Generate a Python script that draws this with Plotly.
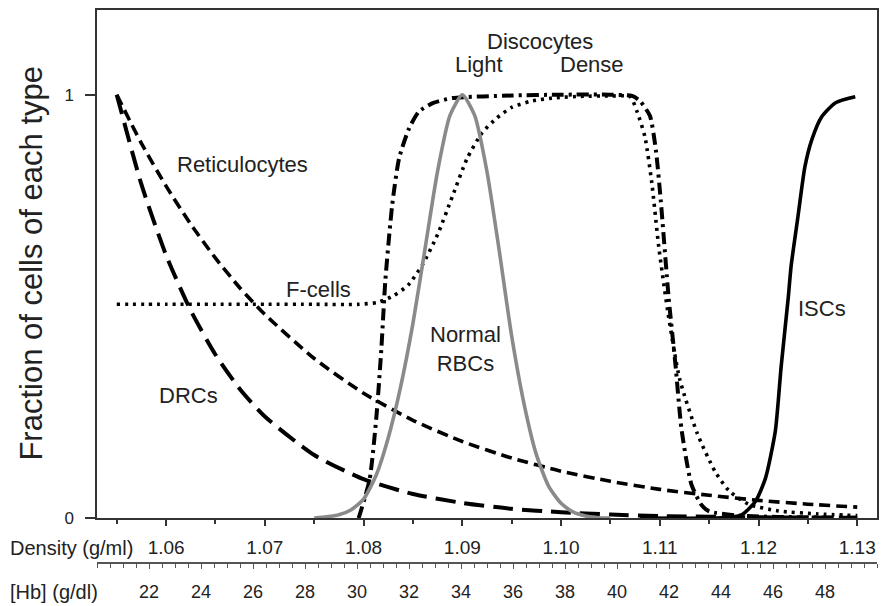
import plotly.graph_objects as go

# ---------------- data ----------------
ret_d = [1.055, 1.0575, 1.06, 1.0625, 1.065, 1.0675, 1.07, 1.075, 1.08, 1.085, 1.09,
         1.095, 1.10, 1.105, 1.11, 1.115, 1.12, 1.125, 1.13]
ret_v = [1.0, 0.885, 0.784, 0.694, 0.614, 0.543, 0.481, 0.377, 0.295, 0.231, 0.181,
         0.142, 0.111, 0.087, 0.068, 0.054, 0.042, 0.033, 0.026]

drc_d = [1.055, 1.0575, 1.06, 1.0625, 1.065, 1.0675, 1.07, 1.075, 1.08, 1.085, 1.09,
         1.095, 1.10, 1.105, 1.11, 1.12, 1.13]
drc_v = [1.0, 0.788, 0.621, 0.49, 0.386, 0.304, 0.24, 0.149, 0.092, 0.057, 0.036,
         0.022, 0.014, 0.0085, 0.005, 0.002, 0.001]

fcell_d = [1.055, 1.06, 1.065, 1.07, 1.075, 1.0795, 1.0815, 1.083, 1.0845, 1.086, 1.0875,
           1.089, 1.0905, 1.092, 1.0935, 1.095, 1.097, 1.0995, 1.102, 1.105, 1.107,
           1.1077, 1.1085, 1.1092, 1.1099, 1.1108, 1.112, 1.1138, 1.1156, 1.117, 1.119,
           1.122, 1.126, 1.13]
fcell_v = [0.505, 0.505, 0.505, 0.505, 0.505, 0.505, 0.51, 0.525, 0.55, 0.6, 0.67,
           0.76, 0.85, 0.91, 0.945, 0.97, 0.985, 0.993, 0.996, 0.997, 0.995,
           0.96, 0.9, 0.79, 0.64, 0.49, 0.33, 0.2, 0.11, 0.065, 0.033,
           0.017, 0.01, 0.006]

disc_d = [1.0795, 1.0806, 1.0813, 1.0818, 1.0822, 1.0829, 1.0836, 1.0846, 1.0856, 1.087,
          1.089, 1.095, 1.10, 1.105, 1.1072, 1.108, 1.109, 1.1096, 1.1101, 1.1109,
          1.1116, 1.1122, 1.1132, 1.1142, 1.115, 1.118, 1.122, 1.13]
disc_v = [0.0, 0.09, 0.24, 0.40, 0.56, 0.74, 0.85, 0.92, 0.96, 0.98,
          0.992, 0.998, 1.0, 1.0, 0.997, 0.985, 0.95, 0.87, 0.75, 0.52,
          0.36, 0.21, 0.08, 0.032, 0.016, 0.006, 0.003, 0.001]

rbc_d = [1.075, 1.07625, 1.0775, 1.07875, 1.08, 1.08125, 1.0825, 1.08375, 1.085, 1.08625,
         1.0875, 1.08875, 1.09, 1.09125, 1.0925, 1.09375, 1.095, 1.09625, 1.0975,
         1.09875, 1.10, 1.10125, 1.1025, 1.10375, 1.105]
rbc_v = [0.0, 0.003, 0.008, 0.02, 0.045, 0.1, 0.19, 0.31, 0.46, 0.64,
         0.82, 0.951, 1.0, 0.951, 0.818, 0.63, 0.43, 0.27, 0.15,
         0.075, 0.035, 0.014, 0.005, 0.001, 0.0]

isc_d = [1.108, 1.115, 1.117, 1.1183, 1.1197, 1.1207, 1.1217, 1.1223, 1.123, 1.1233,
         1.124, 1.1247, 1.1254, 1.1264, 1.1278, 1.1298]
isc_v = [0.0, 0.0, 0.002, 0.008, 0.04, 0.094, 0.205, 0.36, 0.518, 0.595,
         0.713, 0.83, 0.894, 0.948, 0.981, 0.995]

density_range = [1.053, 1.132]
hb_range = [20, 50]
hb_ticks = [22, 24, 26, 28, 30, 32, 34, 36, 38, 40, 42, 44, 46, 48]

labels = [
    ("Reticulocytes", 1.0677, 0.835),
    ("F-cells", 1.0754, 0.541),
    ("DRCs", 1.0623, 0.289),
    ("Discocytes", 1.0979, 1.125),
    ("Light", 1.0917, 1.071),
    ("Dense", 1.1031, 1.071),
    ("Normal<br>RBCs", 1.0903, 0.40),
    ("ISCs", 1.1264, 0.496),
]

FONT = "Liberation Sans, Arial, Helvetica, sans-serif"
TXT = "#222222"
AX = "#333333"

fig = go.Figure()

def add(x, y, color, width, dash, shape="spline"):
    fig.add_trace(go.Scatter(x=x, y=y, mode="lines",
                             line=dict(color=color, width=width, dash=dash,
                                       shape=shape, smoothing=0.6),
                             showlegend=False, hoverinfo="skip"))

add(ret_d, ret_v, "black", 3.6, "11px,6px")
add(drc_d, drc_v, "black", 4, "20px,9px")
add(fcell_d, fcell_v, "black", 3.6, "3px,5px")
add(disc_d, disc_v, "black", 4, "12px,5px,3px,5px")
add(rbc_d, rbc_v, "#8a8a8a", 3.6, "solid")
add(isc_d, isc_v, "black", 3.6, "solid")

# invisible trace to bind the Hb axis
fig.add_trace(go.Scatter(x=hb_range, y=[None, None], xaxis="x2", yaxis="y",
                         mode="lines", showlegend=False, hoverinfo="skip"))

for txt, x, y in labels:
    fig.add_annotation(x=x, y=y, xref="x", yref="y", text=txt, showarrow=False,
                       font=dict(family=FONT, size=22, color=TXT),
                       xanchor="center", yanchor="middle", align="center")

fig.add_annotation(x=-0.1138, y=0.027, xref="paper", yref="paper",
                   text="Density (g/ml)", showarrow=False,
                   font=dict(family=FONT, size=20, color=TXT),
                   xanchor="left", yanchor="middle")
fig.add_annotation(x=-0.1138, y=-0.0523, xref="paper", yref="paper",
                   text="[Hb] (g/dl)", showarrow=False,
                   font=dict(family=FONT, size=20, color=TXT),
                   xanchor="left", yanchor="middle")
fig.add_annotation(x=-0.084, y=0.5423, xref="paper", yref="paper",
                   text="Fraction of cells of each type", showarrow=False,
                   textangle=-90,
                   font=dict(family=FONT, size=31, color=TXT),
                   xanchor="center", yanchor="middle")

fig.update_layout(
    width=883, height=606,
    margin=dict(l=97, r=4, t=10, b=41),
    paper_bgcolor="white", plot_bgcolor="white",
    font=dict(family=FONT, color=TXT),
    xaxis=dict(range=density_range, tick0=1.06, dtick=0.01, tickformat=".2f",
               ticks="outside", ticklen=6, tickwidth=1.5, tickcolor=AX,
               ticklabelstandoff=5,
               minor=dict(dtick=0.005, tick0=1.055, ticks="outside", ticklen=4,
                          tickwidth=1.5, tickcolor=AX),
               showline=True, linecolor=AX, linewidth=1.5, mirror=True,
               showgrid=False, zeroline=False,
               tickfont=dict(size=19, color=TXT, family=FONT)),
    xaxis2=dict(range=hb_range, overlaying="x", anchor="free", position=0,
                side="bottom", tickvals=hb_ticks, ticks="outside", ticklen=5,
                tickwidth=1.2, tickcolor="#555555", ticklabelstandoff=8,
                minor=dict(dtick=0.5, tick0=20, ticks="outside", ticklen=4,
                           tickwidth=1.0, tickcolor="#555555"),
                showline=True, linecolor="#555555", linewidth=1.5,
                showgrid=False, zeroline=False,
                tickfont=dict(size=18, color=TXT, family=FONT)),
    yaxis=dict(range=[0, 1.2], domain=[45 / 555, 1], tickvals=[0, 1],
               ticktext=["0", "1"], ticks="outside", ticklen=10, tickwidth=1.5,
               tickcolor=AX, showline=True, linecolor=AX, linewidth=1.5,
               ticklabelstandoff=8,
               mirror=True, showgrid=False, zeroline=False,
               tickfont=dict(size=17, color=TXT, family=FONT)),
)

fig.write_html("out.html")
